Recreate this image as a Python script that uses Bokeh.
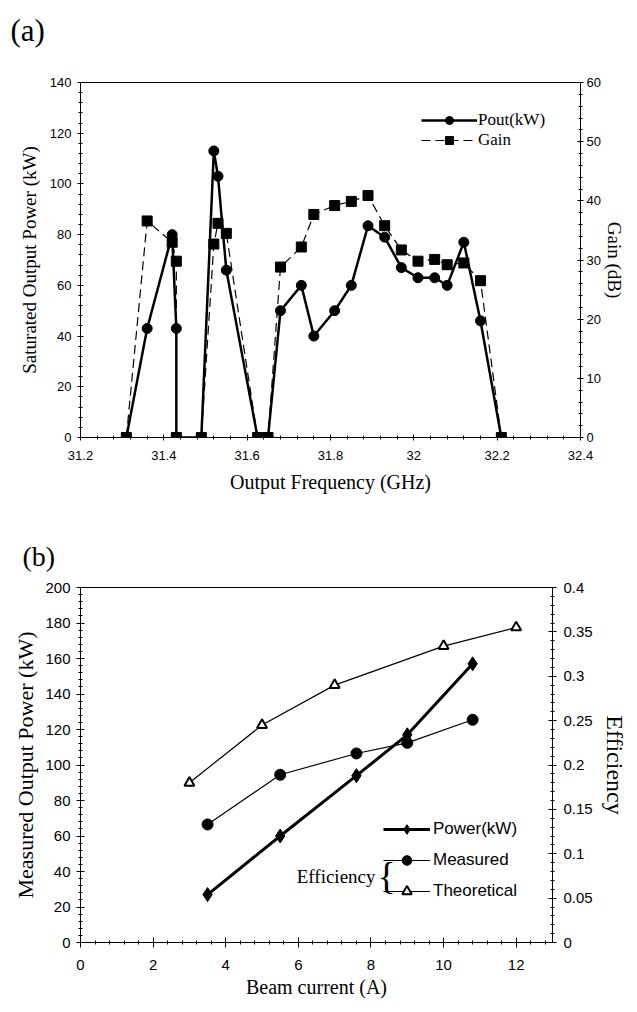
from bokeh.plotting import figure
from bokeh.models import (Range1d, LinearAxis, SingleIntervalTicker, CustomJSTickFormatter,
                          Legend, LegendItem, Label)
from bokeh.layouts import column
from bokeh.embed import file_html
from bokeh.resources import INLINE

# ---------------- data (a) ----------------
freq_pout = [31.31, 31.36, 31.42, 31.43, 31.43, 31.49, 31.52, 31.53, 31.55, 31.625, 31.65,
             31.68, 31.73, 31.76, 31.81, 31.85, 31.89, 31.93, 31.97, 32.01, 32.05, 32.08,
             32.12, 32.16, 32.21]
pout_kw = [0, 43, 80, 43, 0, 0, 113, 103, 66, 0, 0,
           50, 60, 40, 50, 60, 83.5, 79, 67, 63, 63, 60,
           77, 46, 0]
freq_gain = [31.31, 31.36, 31.42, 31.43, 31.43, 31.49, 31.52, 31.53, 31.55, 31.625, 31.65,
             31.68, 31.73, 31.76, 31.81, 31.85, 31.89, 31.93, 31.97, 32.01, 32.05, 32.08,
             32.12, 32.16, 32.21]
gain_db = [0, 36.6, 33, 29.8, 0, 0, 32.7, 36.2, 34.5, 0, 0,
           28.8, 32.2, 37.7, 39.2, 39.9, 40.9, 35.8, 31.7, 29.8, 30.1, 29.2,
           29.5, 26.5, 0]

# ---------------- data (b) ----------------
current_power = [3.5, 5.5, 7.6, 9.0, 10.8]
power_kw = [27, 60, 94, 117, 157]
current_meas = [3.5, 5.5, 7.6, 9.0, 10.8]
eff_meas = [0.133, 0.189, 0.213, 0.225, 0.251]
current_theo = [3, 5, 7, 10, 12]
eff_theo = [0.18, 0.245, 0.29, 0.334, 0.355]

SERIF = "Liberation Serif"
SANS = "Liberation Sans"


def style_axis(ax, tick_size, label_size, tick_in, tick_out, standoff, label_standoff, interval):
    ax.ticker = SingleIntervalTicker(interval=interval, num_minor_ticks=5)
    ax.formatter = CustomJSTickFormatter(code="return Number(tick.toFixed(4)).toString();")
    ax.major_label_text_font = SANS
    ax.major_label_text_font_size = tick_size
    ax.major_label_text_color = "black"
    ax.axis_label_text_font = SERIF
    ax.axis_label_text_font_style = "normal"
    ax.axis_label_text_font_size = label_size
    ax.axis_label_text_color = "black"
    ax.axis_line_color = "black"
    ax.major_tick_line_color = "black"
    ax.minor_tick_line_color = "black"
    ax.major_tick_in = tick_in
    ax.major_tick_out = tick_out
    ax.minor_tick_in = 2
    ax.minor_tick_out = 2
    ax.major_label_standoff = standoff
    ax.axis_label_standoff = label_standoff


def style_title(p, text, size, offset, standoff):
    p.title.text = text
    p.title.text_font = SERIF
    p.title.text_font_size = size
    p.title.text_font_style = "normal"
    p.title.text_color = "black"
    p.title.align = "left"
    p.title.offset = offset
    p.title.standoff = standoff


# ================= figure (a) =================
p1 = figure(frame_width=500, frame_height=355,
            x_range=Range1d(31.2, 32.4), y_range=Range1d(0, 140),
            output_backend="svg", toolbar_location=None,
            min_border_left=76, min_border_right=61, min_border_top=82, min_border_bottom=63)
p1.extra_y_ranges = {"gain": Range1d(0, 60)}
p1.add_layout(LinearAxis(y_range_name="gain", axis_label="Gain (dB)"), "right")
p1.xgrid.visible = False
p1.ygrid.visible = False
p1.outline_line_color = "black"
p1.outline_line_alpha = 1
p1.xaxis.axis_label = "Output Frequency (GHz)"
p1.yaxis[0].axis_label = "Saturated Output Power (kW)"
style_axis(p1.xaxis[0], "13px", "20px", 3, 3, 10, 8, 0.2)
style_axis(p1.yaxis[0], "13px", "19px", 3, 3, 6, 7, 20)
style_axis(p1.yaxis[1], "13px", "19px", 3, 3, 3, 0, 10)
style_title(p1, "(a)\n\u00a0", "31px", -70, 0)

l_pout = p1.line(freq_pout, pout_kw, line_color="black", line_width=2.5)
s_pout = p1.scatter(freq_pout, pout_kw, marker="circle", size=10, fill_color="black", line_color="black")
l_gain = p1.line(freq_gain, gain_db, y_range_name="gain", line_color="black", line_width=1.2,
                 line_dash="9 5")
s_gain = p1.scatter(freq_gain, gain_db, y_range_name="gain", marker="square", size=10,
                    fill_color="black", line_color="black")

leg1 = Legend(items=[LegendItem(label="Pout(kW)", renderers=[l_pout, s_pout]),
                     LegendItem(label="Gain", renderers=[l_gain, s_gain])],
              location=(341, 287), padding=0, margin=0, spacing=0,
              glyph_width=56, glyph_height=20, label_height=20, label_standoff=1,
              label_text_font=SERIF, label_text_font_size="17px", label_text_color="black",
              background_fill_alpha=0, border_line_alpha=0)
p1.add_layout(leg1)

# ================= figure (b) =================
p2 = figure(frame_width=472, frame_height=355,
            x_range=Range1d(0, 13), y_range=Range1d(0, 200),
            output_backend="svg", toolbar_location=None,
            min_border_left=80, min_border_right=85, min_border_top=87, min_border_bottom=66)
p2.extra_y_ranges = {"eff": Range1d(0, 0.4)}
p2.add_layout(LinearAxis(y_range_name="eff", axis_label="Efficiency"), "right")
p2.xgrid.visible = False
p2.ygrid.visible = False
p2.outline_line_color = "black"
p2.outline_line_alpha = 1
p2.xaxis.axis_label = "Beam current (A)"
p2.yaxis[0].axis_label = "Measured Output Power (kW)"
style_axis(p2.xaxis[0], "15px", "20px", 5, 5, 12, 3, 2)
style_axis(p2.yaxis[0], "15px", "22px", 4, 4, 6, 4, 20)
style_axis(p2.yaxis[1], "15px", "24px", 4, 4, 7, 6, 0.05)
style_title(p2, "(b)", "28px", -58, 31)

l_pow = p2.line(current_power, power_kw, line_color="black", line_width=3)
s_pow = p2.scatter(current_power, power_kw, marker="diamond", size=14, fill_color="black",
                   line_color="black")
l_meas = p2.line(current_meas, eff_meas, y_range_name="eff", line_color="black", line_width=1.2)
s_meas = p2.scatter(current_meas, eff_meas, y_range_name="eff", marker="circle", size=11,
                    fill_color="black", line_color="black")
l_theo = p2.line(current_theo, eff_theo, y_range_name="eff", line_color="black", line_width=1.2)
s_theo = p2.scatter(current_theo, eff_theo, y_range_name="eff", marker="triangle", size=10,
                    fill_color="white", line_color="black", line_width=2)

leg2 = Legend(items=[LegendItem(label="Power(kW)", renderers=[l_pow, s_pow]),
                     LegendItem(label="Measured", renderers=[l_meas, s_meas]),
                     LegendItem(label="Theoretical", renderers=[l_theo, s_theo])],
              location=(303, 39), padding=0, margin=0, spacing=7,
              glyph_width=47, glyph_height=24, label_height=24, label_standoff=3,
              label_text_font=SANS, label_text_font_size="17px", label_text_color="black",
              background_fill_alpha=0, border_line_alpha=0)
p2.add_layout(leg2)

p2.add_layout(Label(x=295, y=66, x_units="screen", y_units="screen", text="Efficiency",
                    text_font=SERIF, text_font_size="19px", text_baseline="middle",
                    text_align="right", text_color="black"))
p2.add_layout(Label(x=297, y=67, x_units="screen", y_units="screen", text="{",
                    text_font=SERIF, text_font_size="38px", text_baseline="middle",
                    text_color="black"))

layout = column(p1, p2)
open("out.html", "w").write(file_html(layout, INLINE))
